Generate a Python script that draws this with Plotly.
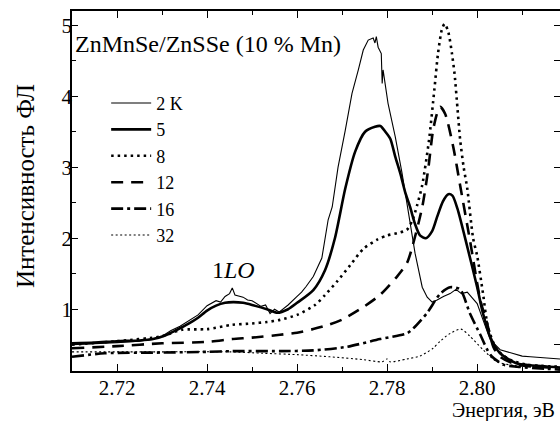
import plotly.graph_objects as go

# ---- data ----
e_2K = [2.710, 2.715, 2.720, 2.725, 2.728, 2.730, 2.732, 2.734, 2.736, 2.738, 2.740, 2.742, 2.743,
        2.744, 2.745, 2.7456, 2.7462, 2.748, 2.749, 2.750, 2.752, 2.753, 2.754, 2.755, 2.756, 2.758,
        2.760, 2.761, 2.762, 2.7636, 2.7655, 2.7662, 2.7669, 2.7678, 2.7691, 2.7707, 2.7722, 2.7736,
        2.7747, 2.7758, 2.7769, 2.7773, 2.7776, 2.778, 2.7787, 2.7789, 2.7791, 2.7802, 2.7818,
        2.7833, 2.7847, 2.7862, 2.7878, 2.7889, 2.7900, 2.7911, 2.7925, 2.794, 2.7953, 2.7965,
        2.7978, 2.800, 2.8013, 2.8029, 2.8051, 2.808, 2.810, 2.8118, 2.8140, 2.8156, 2.8184]
i_2K = [0.50, 0.51, 0.53, 0.55, 0.58, 0.62, 0.70, 0.76, 0.84, 0.92, 1.05, 1.12, 1.10,
        1.18, 1.22, 1.30, 1.20, 1.17, 1.13, 1.12, 1.04, 1.06, 0.94, 1.00, 0.96, 1.06,
        1.18, 1.24, 1.32, 1.46, 1.72, 2.02, 2.26, 2.44, 3.00, 3.52, 4.04, 4.37,
        4.65, 4.79, 4.82, 4.75, 4.84, 4.69, 4.60, 4.18, 4.37, 3.90, 3.43,
        2.92, 2.40, 1.79, 1.31, 1.17, 1.10, 1.13, 1.18, 1.22, 1.28, 1.22,
        1.24, 1.08, 0.85, 0.57, 0.43, 0.38, 0.34, 0.33, 0.32, 0.31, 0.30]

e_5 = [2.710, 2.715, 2.720, 2.725, 2.728, 2.7307, 2.733, 2.736, 2.738, 2.740, 2.742, 2.744, 2.7458,
       2.748, 2.750, 2.7533, 2.7556, 2.758, 2.760, 2.7636, 2.7662, 2.7684, 2.7707, 2.7729, 2.7751,
       2.7773, 2.7785, 2.7796, 2.7807, 2.7818, 2.7829, 2.784, 2.7851, 2.7862, 2.7873, 2.7886,
       2.790, 2.7911, 2.7924, 2.7936, 2.7945, 2.7956, 2.7978, 2.800, 2.8013, 2.8029, 2.8051,
       2.8087, 2.8118, 2.8184]
i_5 = [0.52, 0.53, 0.55, 0.56, 0.58, 0.63, 0.70, 0.80, 0.88, 0.98, 1.05, 1.09, 1.10,
       1.09, 1.06, 1.00, 0.95, 1.00, 1.09, 1.27, 1.55, 2.00, 2.70, 3.22, 3.50,
       3.57, 3.58, 3.50, 3.40, 3.15, 2.92, 2.65, 2.44, 2.20, 2.04, 2.00,
       2.10, 2.30, 2.52, 2.62, 2.60, 2.42, 1.88, 1.31, 0.94, 0.61, 0.38,
       0.24, 0.21, 0.18]

e_8 = [2.710, 2.720, 2.730, 2.7344, 2.740, 2.7456, 2.750, 2.7533, 2.7562, 2.760, 2.764, 2.7662,
       2.769, 2.7718, 2.7747, 2.7778, 2.780, 2.7822, 2.7844, 2.7856, 2.7866, 2.7878, 2.7893,
       2.7905, 2.7913, 2.7922, 2.7928, 2.7936, 2.7944, 2.795, 2.7956, 2.7962, 2.797, 2.7978,
       2.7991, 2.800, 2.8013, 2.8024, 2.8044, 2.8073, 2.811, 2.8184]
i_8 = [0.50, 0.55, 0.62, 0.71, 0.72, 0.78, 0.80, 0.82, 0.85, 0.92, 1.06, 1.20,
       1.40, 1.62, 1.85, 1.98, 2.04, 2.07, 2.12, 2.25, 2.45, 2.75, 3.38,
       4.10, 4.60, 4.95, 5.02, 4.90, 4.60, 4.30, 3.85, 3.40, 3.00, 2.70,
       2.00, 1.75, 1.22, 0.75, 0.43, 0.29, 0.22, 0.19]

e_12 = [2.710, 2.720, 2.730, 2.740, 2.7456, 2.750, 2.7562, 2.760, 2.7636, 2.767, 2.7702, 2.7747,
        2.7784, 2.7822, 2.7844, 2.7856, 2.7878, 2.7891, 2.7902, 2.7911, 2.7918, 2.7929, 2.7947,
        2.7962, 2.7984, 2.8007, 2.8022, 2.8036, 2.8051, 2.8089, 2.8184]
i_12 = [0.45, 0.48, 0.52, 0.54, 0.58, 0.60, 0.64, 0.67, 0.72, 0.78, 0.86, 1.03,
        1.20, 1.46, 1.65, 1.88, 2.44, 2.96, 3.52, 3.76, 3.85, 3.75, 3.28,
        2.75, 1.97, 1.13, 0.80, 0.47, 0.33, 0.22, 0.17]

e_16 = [2.710, 2.7173, 2.730, 2.740, 2.7456, 2.7562, 2.7636, 2.771, 2.7784, 2.7844, 2.7858,
        2.7889, 2.7918, 2.794, 2.7962, 2.7984, 2.8007, 2.8029, 2.8058, 2.8089, 2.8184]
i_16 = [0.33, 0.38, 0.39, 0.40, 0.41, 0.41, 0.42, 0.47, 0.58, 0.66, 0.73,
        0.95, 1.22, 1.31, 1.28, 0.94, 0.64, 0.36, 0.22, 0.19, 0.15]

e_32 = [2.710, 2.730, 2.745, 2.7524, 2.760, 2.7673, 2.7747, 2.7789, 2.780, 2.7806, 2.7844,
        2.7873, 2.7902, 2.7918, 2.794, 2.7964, 2.7984, 2.8013, 2.8044, 2.808, 2.8184]
i_32 = [0.40, 0.40, 0.40, 0.38, 0.36, 0.33, 0.29, 0.26, 0.30, 0.26, 0.30,
        0.34, 0.45, 0.55, 0.66, 0.72, 0.62, 0.43, 0.26, 0.21, 0.18]

series = [
    ("2 K", e_2K, i_2K, dict(width=1.1, dash="solid", shape="linear")),
    ("5", e_5, i_5, dict(width=2.6, dash="solid", shape="spline", smoothing=0.7)),
    ("8", e_8, i_8, dict(width=2.6, dash="2.5px,4px", shape="spline", smoothing=0.7)),
    ("12", e_12, i_12, dict(width=2.6, dash="12px,8px", shape="spline", smoothing=0.7)),
    ("16", e_16, i_16, dict(width=2.6, dash="12px,4px,3px,4px", shape="spline", smoothing=0.7)),
    ("32", e_32, i_32, dict(width=1.1, dash="2px,2.5px", shape="spline", smoothing=0.7)),
]

FONT = "Liberation Serif, DejaVu Serif, serif"

fig = go.Figure()
for name, ex, iy, ln in series:
    fig.add_trace(go.Scatter(x=ex, y=iy, mode="lines", name=name,
                             line=dict(color="black", **ln)))
# helper trace to bring up the right-hand tick axis
fig.add_trace(go.Scatter(x=[None], y=[None], yaxis="y2", showlegend=False, hoverinfo="skip"))

fig.update_layout(
    width=560, height=421,
    margin=dict(l=72, r=0, t=11, b=50),
    paper_bgcolor="white", plot_bgcolor="white",
    font=dict(family=FONT, size=21, color="black"),
    showlegend=True,
    legend=dict(x=0.07, y=0.795, xanchor="left", yanchor="top",
                bgcolor="rgba(0,0,0,0)", font=dict(size=18, family=FONT),
                tracegroupgap=0, itemwidth=40),
    xaxis=dict(range=[2.71, 2.8184], showgrid=False, zeroline=False,
               showline=True, linecolor="black", linewidth=1.5, mirror="ticks",
               ticks="inside", ticklen=7, tickwidth=1.2, tickcolor="black",
               tick0=2.72, dtick=0.02, tickformat=".2f", ticklabelstandoff=-3,
               tickfont=dict(family=FONT, size=21),
               minor=dict(ticks="inside", ticklen=4, tickwidth=1.2, dtick=0.01,
                          tick0=2.71, tickcolor="black", showgrid=False)),
    yaxis=dict(range=[0.13, 5.2], showgrid=False, zeroline=False,
               showline=True, linecolor="black", linewidth=1.5,
               ticks="inside", ticklen=6, tickwidth=1.2, tickcolor="black",
               tick0=0, dtick=1, ticklabelstandoff=-6,
               tickfont=dict(family=FONT, size=21),
               minor=dict(ticks="inside", ticklen=4, tickwidth=1.2, dtick=0.5,
                          tick0=0, tickcolor="black", showgrid=False)),
    yaxis2=dict(range=[0.13, 5.2], overlaying="y", side="right", anchor="x",
                showgrid=False, zeroline=False, showline=False,
                showticklabels=False, ticks="inside", ticklen=6, tickwidth=1.2,
                tickcolor="black", tick0=0, dtick=0.5),
    annotations=[
        dict(text="ZnMnSe/ZnSSe (10 % Mn)", xref="paper", yref="paper",
             x=0.002, y=0.908, xanchor="left", yanchor="middle",
             showarrow=False, font=dict(size=24, family=FONT)),
        dict(text="1<i>LO</i>", xref="x", yref="y", x=2.7458, y=1.55,
             xanchor="center", yanchor="middle", showarrow=False,
             font=dict(size=24, family=FONT)),
        dict(text="Энергия, эВ", xref="paper", yref="paper", x=0.994, y=-0.11,
             xanchor="right", yanchor="middle", showarrow=False,
             font=dict(size=20, family=FONT)),
        dict(text="Интенсивность ФЛ", xref="paper", yref="paper", x=-0.094, y=0.514,
             xanchor="center", yanchor="middle", textangle=-90, showarrow=False,
             font=dict(size=25, family=FONT)),
    ],
)

fig.write_html("out.html")
